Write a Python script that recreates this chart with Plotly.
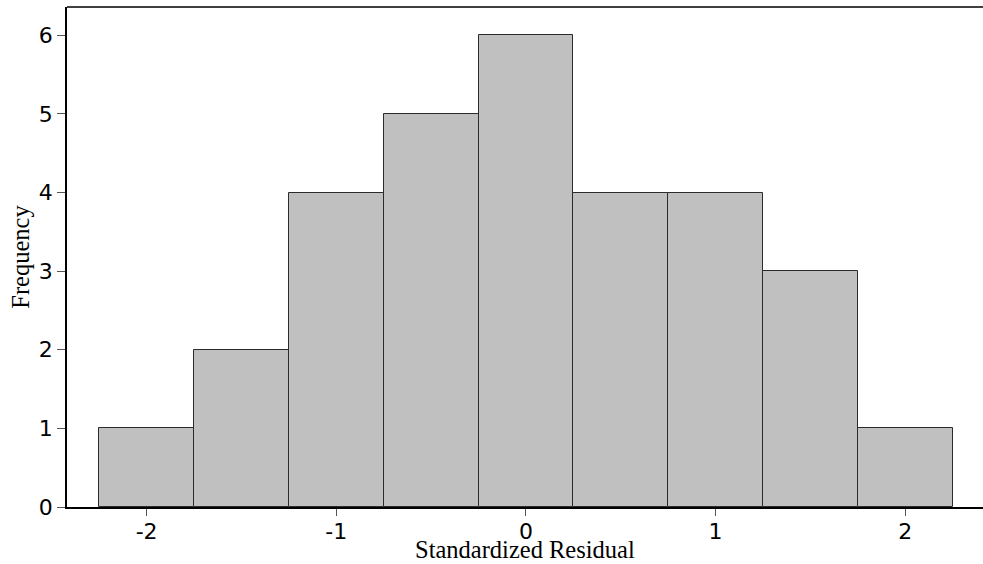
import plotly.graph_objects as go

# Histogram of standardized residuals: bin centres and counts
bin_centers = [-2.0, -1.5, -1.0, -0.5, 0.0, 0.5, 1.0, 1.5, 2.0]
frequencies = [1, 2, 4, 5, 6, 4, 4, 3, 1]
bin_width = 0.5
x_ticks = [-2, -1, 0, 1, 2]
y_ticks = [0, 1, 2, 3, 4, 5, 6]

fig = go.Figure(
    go.Bar(
        x=bin_centers,
        y=frequencies,
        width=bin_width,
        marker=dict(color="#c0c0c0", line=dict(color="#2b2b2b", width=1)),
        hoverinfo="x+y",
    )
)

tick_font = dict(family="DejaVu Sans, Verdana, sans-serif", size=22, color="#000")
title_font = dict(family="Liberation Serif, Times New Roman, serif", size=24.5, color="#000")

plot_h = 564 - 7 - 57

fig.update_layout(
    width=983,
    height=564,
    margin=dict(l=67, r=0, t=7, b=57, autoexpand=False),
    plot_bgcolor="white",
    paper_bgcolor="white",
    showlegend=False,
    bargap=0,
    xaxis=dict(
        range=[-2.42, 2.41],
        tickvals=x_ticks,
        ticktext=[str(v) for v in x_ticks],
        ticks="outside",
        ticklen=7,
        tickcolor="#555",
        tickfont=tick_font,
        ticklabelstandoff=-3,
        showline=True,
        linecolor="#000",
        linewidth=1.5,
        showgrid=False,
        zeroline=False,
        automargin=False,
    ),
    yaxis=dict(
        range=[0, 6.36],
        tickvals=y_ticks,
        ticks="outside",
        ticklen=8,
        tickcolor="#555",
        tickfont=tick_font,
        showline=True,
        linecolor="#000",
        linewidth=1.5,
        showgrid=False,
        zeroline=False,
        automargin=False,
        title=dict(text="Frequency", font=title_font, standoff=2),
    ),
    annotations=[
        dict(
            text="Standardized Residual",
            xref="paper", yref="paper",
            x=0.5, y=-57 / plot_h,
            xanchor="center", yanchor="bottom",
            showarrow=False, font=title_font, borderpad=0,
        )
    ],
    shapes=[
        dict(
            type="line", xref="paper", yref="paper",
            x0=0, x1=1, y0=1, y1=1,
            line=dict(color="#000", width=1.5),
        )
    ],
)

fig.write_html("out.html")
